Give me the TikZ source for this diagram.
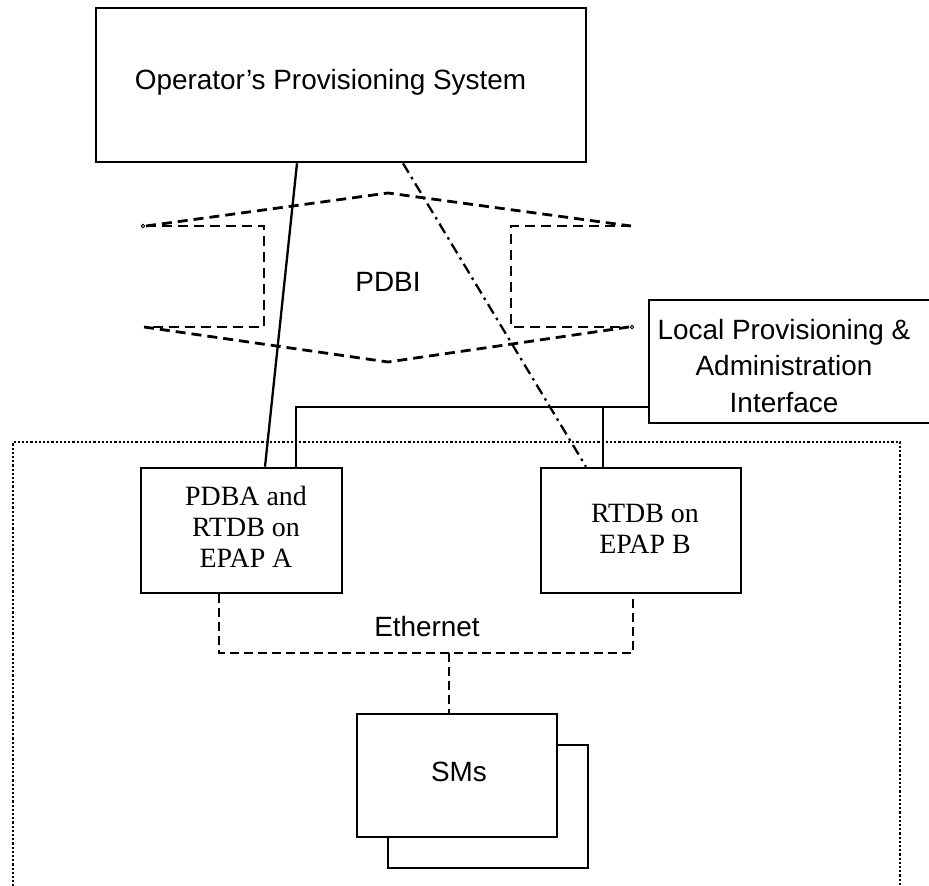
\documentclass[tikz,border=0pt]{standalone}
\usepackage{fontspec}
\setmainfont{Liberation Serif}
\setsansfont{Liberation Sans}
\begin{document}
\begin{tikzpicture}[x=1bp,y=-1bp,
  box/.style={draw,line width=2.6bp,inner sep=0pt,fill=white},
  sanslbl/.style={font=\sffamily\fontsize{28}{37}\selectfont,align=center,inner sep=0pt},
  serlbl/.style={font=\rmfamily\fontsize{28}{31}\selectfont,align=center,inner sep=0pt},
  solidline/.style={line width=2.3bp},
  dashline/.style={line width=2.8bp,dash pattern=on 10bp off 6bp},
  dashdotline/.style={line width=2.3bp,dash pattern=on 11bp off 5bp on 2.5bp off 5bp},
  dotline/.style={line width=2.3bp,dash pattern=on 2.2bp off 2bp},
  endmark/.style={draw,line width=0.8bp,circle,inner sep=0pt,minimum size=3.5bp,fill=white}]
\useasboundingbox (0,0) rectangle (929,886);
\clip (0,0) rectangle (929,886);
\fill[white] (0,0) rectangle (929,886);

% dotted enclosure
\coordinate (dTL) at (13,442);
\coordinate (dTR) at (900,442);
\coordinate (dBL) at (13,895);
\coordinate (dBR) at (900,895);
\draw[dotline] (dBL) -- (dTL) -- (dTR) -- (dBR);

% operator box
\node[box,minimum width=490bp,minimum height=154bp] (ops) at (341,85) {};
\node[sanslbl] (opstext) at (330.5,82) {Operator’s Provisioning System};

% PDBI shape
\coordinate (pL1) at (146,226);
\coordinate (pTop) at (388,193);
\coordinate (pR1) at (631,226);
\coordinate (pL2) at (144,327);
\coordinate (pBot) at (388,362);
\coordinate (pR2) at (629,327);
\coordinate (pLa) at (264,226);
\coordinate (pLb) at (264,327);
\coordinate (pRa) at (511,226);
\coordinate (pRb) at (511,327);
\draw[dashline] (pL1) -- (pTop) -- (pR1);
\draw[dashline] (pL2) -- (pBot) -- (pR2);
\draw[dashline] (pL1) -- (pLa) -- (pLb) -- (pL2);
\draw[dashline] (pR1) -- (pRa) -- (pRb) -- (pR2);
\node[endmark] (m1) at (143,226) {};
\node[endmark] (m2) at (632,327) {};
\node[sanslbl] (pdbi) at (388,282) {PDBI};

% local provisioning box
\node[box,minimum width=300bp,minimum height=123bp] (lpai) at (799,361.5) {};
\node[sanslbl] (lpaitext) at (784,366) {Local Provisioning \&\\Administration\\Interface};

% EPAP boxes
\node[box,minimum width=201bp,minimum height=125bp] (pdba) at (241.5,530.5) {};
\node[serlbl] (pdbatext) at (246,527) {PDBA and\\RTDB on\\EPAP A};
\node[box,minimum width=200bp,minimum height=125bp] (rtdb) at (641,530.5) {};
\node[serlbl] (rtdbtext) at (645,529) {RTDB on\\EPAP B};

% connectors from operator
\draw[solidline] (297,0 |- ops.south) -- (265,0 |- pdba.north);
\draw[dashdotline] (403,0 |- ops.south) -- (586,0 |- rtdb.north);

% local provisioning links
\coordinate (lA) at (296,407);
\coordinate (lB) at (603,407);
\draw[solidline] (lpai.west |- lA) -- (lA) -- (lA |- pdba.north);
\draw[solidline] (lB) -- (lB |- rtdb.north);

% SMs
\node[box,minimum width=200bp,minimum height=123bp] (smsback) at (488,806.5) {};
\node[box,minimum width=200bp,minimum height=123bp] (sms) at (457,775.5) {};
\node[sanslbl] (smstext) at (459,772) {SMs};

% Ethernet
\coordinate (eL) at (219,653);
\coordinate (eR) at (633,653);
\coordinate (eM) at (449,653);
\draw[dashline,dash pattern=on 9bp off 5bp] (eL |- pdba.south) -- (eL) -- (eR) -- (eR |- rtdb.south);
\draw[dashline,dash pattern=on 9bp off 5bp] (eM) -- (eM |- sms.north);
\node[sanslbl] (eth) at (427,627) {Ethernet};
\end{tikzpicture}
\end{document}
